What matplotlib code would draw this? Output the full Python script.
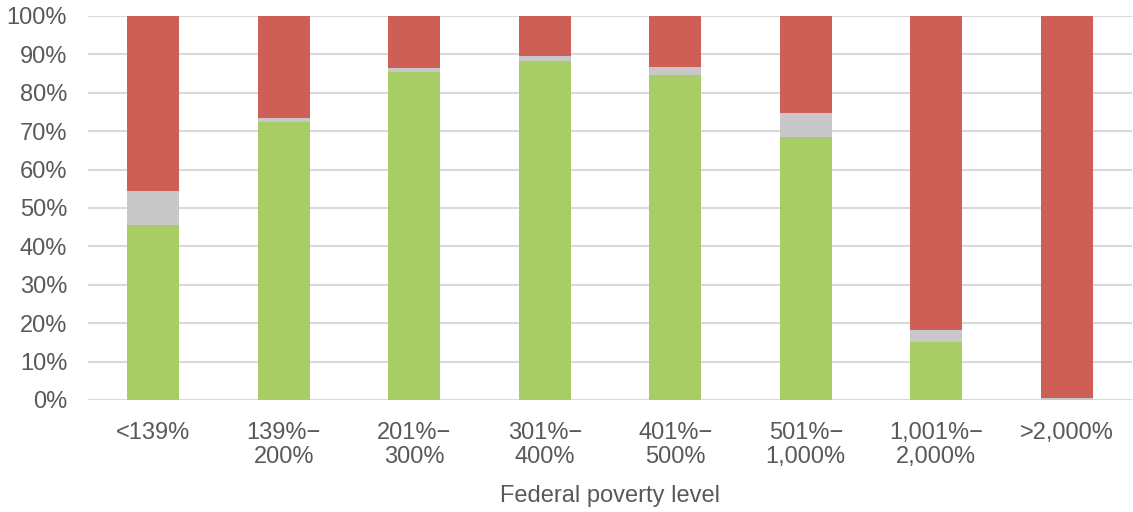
import matplotlib
matplotlib.use("Agg")
import matplotlib.pyplot as plt
import numpy as np

categories = ["<139%", "139%−\n200%", "201%−\n300%", "301%−\n400%", "401%−\n500%",
              "501%−\n1,000%", "1,001%−\n2,000%", ">2,000%"]
green_vals = [45.5, 72.3, 85.4, 88.3, 84.6, 68.6, 15.1, 0.0]
grey_vals = [9.0, 1.2, 1.1, 1.3, 2.1, 6.1, 3.1, 0.6]
red_vals = [100 - g - r for g, r in zip(green_vals, grey_vals)]

plt.rcParams['font.family'] = ['Liberation Sans', 'DejaVu Sans']

fig = plt.figure(figsize=(11.33, 5.12), dpi=100)
ax = fig.add_axes([88 / 1133, 112 / 512, 1044 / 1133, 384 / 512])

x = np.arange(len(categories))
w = 0.40
green = np.array(green_vals)
grey = np.array(grey_vals)
red = np.array(red_vals)
ax.bar(x, green, w, color="#a8cc66", zorder=3)
ax.bar(x, grey, w, bottom=green, color="#c8c8c8", zorder=3)
ax.bar(x, red, w, bottom=green + grey, color="#cd5f57", zorder=3)

ax.set_xlim(-0.5, len(categories) - 0.5)
ax.set_ylim(0, 100)
ax.set_yticks(np.arange(0, 101, 10))
ax.set_yticklabels([f"{v}%" for v in range(0, 101, 10)])
ax.set_xticks(x)
ax.set_xticklabels(categories, linespacing=1.1)
ax.yaxis.grid(True, color="#d9d9d9", linewidth=1.5, zorder=0)
ax.xaxis.grid(False)
for s in ax.spines.values():
    s.set_visible(False)
ax.tick_params(axis="both", length=0, labelsize=17, colors="#595959")
ax.tick_params(axis="x", pad=16)
ax.tick_params(axis="y", pad=15)
ax.set_xlabel("Federal poverty level", fontsize=17, color="#595959", labelpad=12)

fig.savefig("out.png", dpi=100)
